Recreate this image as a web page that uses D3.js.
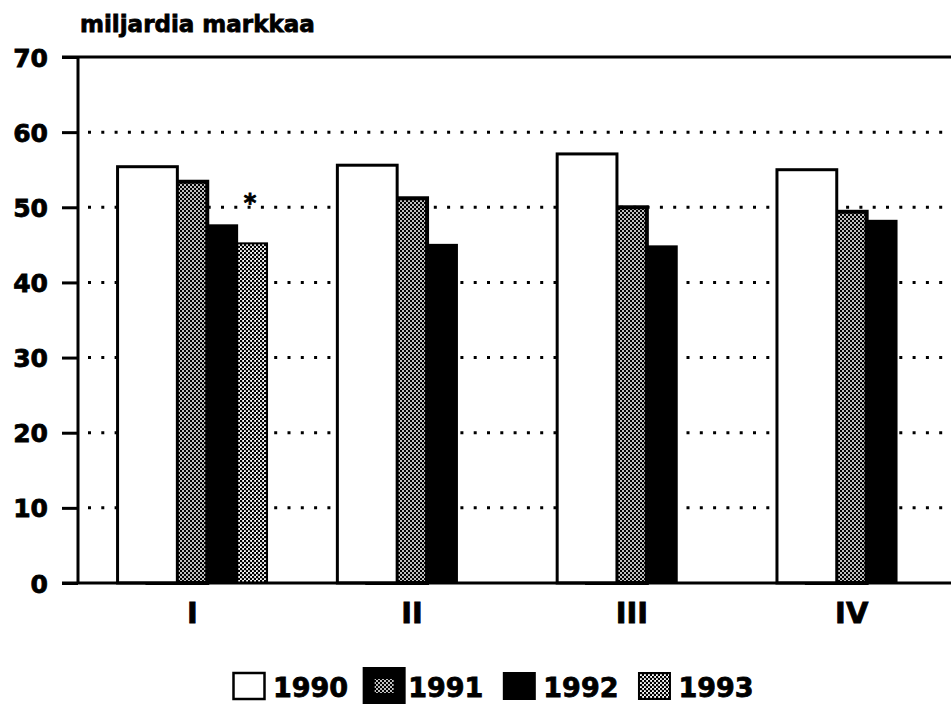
<!DOCTYPE html>
<html>
<head>
<meta charset="utf-8">
<script src="https://cdn.jsdelivr.net/npm/d3@7"></script>
<style>
  html, body { margin: 0; padding: 0; background: #fff; }
  svg { display: block; }
  text { font-family: "DejaVu Sans", sans-serif; font-weight: bold; fill: #000; stroke: #000; stroke-width: 0.8px; }
</style>
</head>
<body>
<svg id="chart" width="951" height="704"></svg>
<script>
// ---- data ----
const categories = ["I", "II", "III", "IV"];
const seriesNames = ["1990", "1991", "1992", "1993"];
const values1990 = [55.4, 55.6, 57.1, 55.0];
const values1991 = [53.4, 51.2, 50.0, 49.4];
const values1992 = [47.6, 45.0, 44.8, 48.2];
const values1993 = [45.2, null, null, null];
const yTicks = [0, 10, 20, 30, 40, 50, 60, 70];
const yTitle = "miljardia markkaa";
const annotations = [{ category: "I", series: "1993", value: 51.4, text: "*" }];

const seriesValues = [values1990, values1991, values1992, values1993];

// ---- layout ----
const svg = d3.select("#chart");
const W = 951;
const plotLeft = 78, plotTop = 57, plotBottom = 583;

const y = d3.scaleLinear().domain([0, 70]).range([plotBottom, plotTop]);
const xGroup = d3.scaleBand().domain(categories).range([plotLeft, 966])
  .paddingInner(0.32).paddingOuter(0.18);
const barW = xGroup.bandwidth() / 2.5;
const xSeries = d3.scaleLinear().domain([0, 1]).range([0, barW / 2]);

// patterns
const defs = svg.append("defs");
const p1 = defs.append("pattern").attr("id", "pat1991").attr("patternUnits", "userSpaceOnUse")
  .attr("width", 4).attr("height", 4);
p1.append("rect").attr("width", 4).attr("height", 4).attr("fill", "#000");
p1.append("circle").attr("cx", 1).attr("cy", 1).attr("r", 1).attr("fill", "#fff");
p1.append("circle").attr("cx", 3).attr("cy", 3).attr("r", 1).attr("fill", "#fff");
const p3 = defs.append("pattern").attr("id", "pat1993").attr("patternUnits", "userSpaceOnUse")
  .attr("width", 4).attr("height", 4);
p3.append("rect").attr("width", 4).attr("height", 4).attr("fill", "#fff");
p3.append("circle").attr("cx", 1).attr("cy", 1).attr("r", 1.3).attr("fill", "#000");
p3.append("circle").attr("cx", 3).attr("cy", 3).attr("r", 1.3).attr("fill", "#000");

const fills = { "1990": "#fff", "1991": "url(#pat1991)", "1992": "#000", "1993": "url(#pat1993)" };
const strokeW = { "1990": 3, "1991": 4, "1992": 2, "1993": 2 };

// title
svg.append("text").attr("x", 80).attr("y", 32).attr("font-size", 23).text(yTitle);

// gridlines
svg.append("g").selectAll("line").data(yTicks.filter(d => d > 0 && d < 70)).join("line")
  .attr("x1", plotLeft + 10).attr("x2", W)
  .attr("y1", d => y(d)).attr("y2", d => y(d))
  .attr("stroke", "#000").attr("stroke-width", 3)
  .attr("stroke-dasharray", "3 10.3");

// y axis
const yAxis = svg.append("g").attr("transform", `translate(${plotLeft},0)`)
  .call(d3.axisLeft(y).tickValues(yTicks).tickSize(16).tickPadding(14));
yAxis.select(".domain").remove();
yAxis.selectAll(".tick line").attr("stroke", "#000").attr("stroke-width", 3);
yAxis.selectAll(".tick text").attr("font-size", 25).attr("font-family", "DejaVu Sans")
  .attr("font-weight", "bold").attr("dy", "0.36em");

// bars (later series drawn first so earlier ones overlap them)
const barData = [];
for (let s = seriesNames.length - 1; s >= 0; s--) {
  categories.forEach((c, ci) => {
    const v = seriesValues[s][ci];
    if (v != null) barData.push({ c, s, name: seriesNames[s], v });
  });
}
svg.append("g").selectAll("rect").data(barData).join("rect")
  .attr("x", d => xGroup(d.c) + xSeries(d.s))
  .attr("y", d => y(d.v))
  .attr("width", barW)
  .attr("height", d => y(0) - y(d.v))
  .attr("fill", d => fills[d.name])
  .attr("stroke", "#000")
  .attr("stroke-width", d => strokeW[d.name]);

// annotation
svg.append("g").selectAll("text").data(annotations).join("text")
  .attr("x", d => xGroup(d.category) + xSeries(seriesNames.indexOf(d.series)) + barW * 0.75 - 2)
  .attr("y", d => y(d.value))
  .attr("text-anchor", "middle").attr("dy", "0.6em")
  .attr("font-size", 24).text(d => d.text);

// frame lines
svg.append("line").attr("x1", plotLeft).attr("x2", plotLeft).attr("y1", plotTop).attr("y2", plotBottom)
  .attr("stroke", "#000").attr("stroke-width", 3);
svg.append("line").attr("x1", plotLeft - 16).attr("x2", W).attr("y1", plotTop).attr("y2", plotTop)
  .attr("stroke", "#000").attr("stroke-width", 3);
svg.append("line").attr("x1", plotLeft - 16).attr("x2", W).attr("y1", plotBottom).attr("y2", plotBottom)
  .attr("stroke", "#000").attr("stroke-width", 3);

// category axis
const xAxis = svg.append("g").attr("transform", `translate(0,${plotBottom})`)
  .call(d3.axisBottom(xGroup).tickSize(0).tickPadding(0));
xAxis.select(".domain").remove();
xAxis.selectAll(".tick text").attr("font-size", 29).attr("font-family", "DejaVu Sans")
  .attr("font-weight", "bold").attr("dy", null).attr("y", 40);

// legend
const legend = svg.append("g");
let lx = 232;
seriesNames.forEach((name, i) => {
  const g = legend.append("g");
  g.append("rect").attr("x", lx + 1.5).attr("y", 673).attr("width", 31).attr("height", 26)
    .attr("fill", fills[name]).attr("stroke", "#000")
    .attr("stroke-width", name === "1991" ? 12 : (name === "1990" ? 2.5 : 2));
  const t = g.append("text").attr("x", lx + 41).attr("y", 697).attr("font-size", 27).text(name);
  lx = lx + 41 + t.node().getComputedTextLength() + 19;
});
</script>
</body>
</html>
